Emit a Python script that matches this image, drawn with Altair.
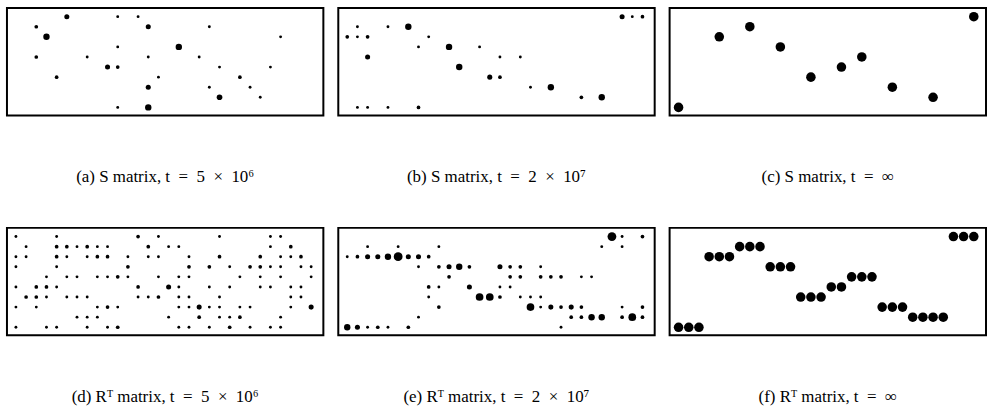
import altair as alt
import pandas as pd

# relative magnitudes of matrix entries (dot area relative to the largest)
T, S, M, L, XL, XXL, F = 0.09, 0.15, 0.28, 0.45, 0.65, 0.85, 1.0

# (row, column, magnitude) for each panel
s_5e6 = [
    (0, 5, M), (0, 10, T), (0, 12, T),
    (1, 2, S), (1, 13, M), (1, 19, T),
    (2, 3, L), (2, 26, T),
    (3, 10, T), (3, 16, L),
    (4, 2, S), (4, 7, T), (4, 13, T), (4, 18, T),
    (5, 9, M), (5, 10, S), (5, 20, T), (5, 25, T),
    (6, 4, S), (6, 14, T), (6, 22, S),
    (7, 13, M), (7, 19, T), (7, 23, T),
    (8, 20, 0.35), (8, 24, T),
    (9, 10, T), (9, 13, L),
]
s_2e7 = [
    (0, 27, M), (0, 28, T), (0, 29, S),
    (1, 1, T), (1, 4, T), (1, 6, L),
    (2, 0, S), (2, 1, T), (2, 2, S), (2, 8, T),
    (3, 7, T), (3, 10, L), (3, 13, T),
    (4, 2, M), (4, 15, T), (4, 17, T),
    (5, 11, L),
    (6, 14, M), (6, 15, S),
    (7, 18, T), (7, 20, L),
    (8, 23, S), (8, 25, L),
    (9, 1, T), (9, 2, T), (9, 4, T), (9, 7, S),
]
s_inf = [
    (9, 0, F), (2, 4, F), (1, 7, F), (3, 10, F), (6, 13, F),
    (5, 16, F), (4, 18, F), (7, 21, F), (8, 25, F), (0, 29, F),
]
r_5e6 = [
    (0, 0, T), (0, 4, T), (0, 12, S), (0, 14, T), (0, 20, T), (0, 25, T), (0, 26, T),
    (1, 1, T), (1, 4, S), (1, 5, S), (1, 6, T), (1, 7, S), (1, 8, T), (1, 9, T),
    (1, 13, S), (1, 15, T), (1, 16, T), (1, 25, T), (1, 27, S),
    (2, 0, T), (2, 1, T), (2, 4, S), (2, 5, T), (2, 7, T), (2, 8, S), (2, 9, S),
    (2, 11, T), (2, 13, T), (2, 14, T), (2, 17, T), (2, 20, S), (2, 24, S),
    (2, 26, T), (2, 27, T), (2, 28, S),
    (3, 0, T), (3, 4, T), (3, 11, S), (3, 17, S), (3, 19, S), (3, 21, T),
    (3, 23, S), (3, 24, S), (3, 25, T), (3, 26, T), (3, 28, T), (3, 29, T),
    (4, 3, T), (4, 5, T), (4, 6, T), (4, 8, T), (4, 9, T), (4, 10, S), (4, 11, T),
    (4, 14, T), (4, 16, T), (4, 17, T), (4, 22, T), (4, 24, T), (4, 26, T), (4, 29, T),
    (5, 0, T), (5, 2, S), (5, 3, S), (5, 4, T), (5, 12, S), (5, 15, M), (5, 16, T),
    (5, 19, T), (5, 21, T), (5, 24, T), (5, 25, T), (5, 27, T), (5, 28, T),
    (6, 1, S), (6, 2, S), (6, 3, T), (6, 5, T), (6, 6, T), (6, 7, T), (6, 12, T),
    (6, 13, T), (6, 14, S), (6, 16, T), (6, 17, T), (6, 20, T), (6, 27, T), (6, 28, T),
    (7, 0, T), (7, 2, T), (7, 8, T), (7, 9, S), (7, 10, T), (7, 16, T), (7, 17, T),
    (7, 18, M), (7, 19, T), (7, 20, T), (7, 22, T), (7, 23, T), (7, 27, T), (7, 29, M),
    (8, 6, T), (8, 7, T), (8, 8, T), (8, 15, T), (8, 18, S), (8, 20, T), (8, 21, T),
    (8, 22, S), (8, 26, T),
    (9, 0, T), (9, 3, T), (9, 4, T), (9, 7, T), (9, 9, T), (9, 10, S), (9, 16, T),
    (9, 17, T), (9, 19, T), (9, 21, S), (9, 23, T), (9, 25, T), (9, 26, T),
]
r_2e7 = [
    (0, 26, XXL), (0, 27, T), (0, 29, S),
    (1, 2, T), (1, 5, T), (1, 9, T), (1, 25, T), (1, 27, T),
    (2, 0, T), (2, 1, S), (2, 2, M), (2, 3, M), (2, 4, L), (2, 5, XXL),
    (2, 6, M), (2, 7, M), (2, 8, S),
    (3, 7, T), (3, 9, S), (3, 10, M), (3, 11, L), (3, 12, S), (3, 15, M),
    (3, 16, S), (3, 17, S), (3, 19, T),
    (4, 10, S), (4, 16, S), (4, 17, S), (4, 19, S), (4, 20, S), (4, 21, S),
    (4, 23, T), (4, 24, T),
    (5, 8, S), (5, 9, T), (5, 12, M), (5, 15, T), (5, 16, T),
    (6, 8, T), (6, 13, XL), (6, 14, XL), (6, 15, S), (6, 17, T), (6, 18, T), (6, 19, T),
    (7, 9, S), (7, 18, XL), (7, 19, T), (7, 20, M), (7, 21, S), (7, 22, M),
    (7, 23, S), (7, 27, T), (7, 29, S),
    (8, 7, T), (8, 22, S), (8, 23, S), (8, 24, L), (8, 25, L), (8, 27, S),
    (8, 28, XL), (8, 29, S),
    (9, 0, L), (9, 1, M), (9, 2, T), (9, 3, S), (9, 4, T), (9, 6, S), (9, 21, T),
]
r_inf_rows = [9, 9, 9, 2, 2, 2, 1, 1, 1, 3, 3, 3, 6, 6, 6, 5, 5, 4, 4, 4,
              7, 7, 7, 8, 8, 8, 8, 0, 0, 0]
r_inf_cols = list(range(30))
r_inf = [(r, c, F) for r, c in zip(r_inf_rows, r_inf_cols)]

EN = "\u2002"
captions = [
    f"(a) S matrix, t{EN}={EN}5{EN}×{EN}10⁶",
    f"(b) S matrix, t{EN}={EN}2{EN}×{EN}10⁷",
    f"(c) S matrix, t{EN}={EN}∞",
    f"(d) Rᵀ matrix, t{EN}={EN}5{EN}×{EN}10⁶",
    f"(e) Rᵀ matrix, t{EN}={EN}2{EN}×{EN}10⁷",
    f"(f) Rᵀ matrix, t{EN}={EN}∞",
]


def panel(entries, caption):
    df = pd.DataFrame(entries, columns=["row", "col", "val"])
    return alt.Chart(df).mark_circle(color="black", opacity=1).encode(
        x=alt.X("col:Q", scale=alt.Scale(domain=[-0.88, 30.2], nice=False, zero=False), axis=None),
        y=alt.Y("row:Q", scale=alt.Scale(domain=[-0.86, 9.8], reverse=True, nice=False, zero=False), axis=None),
        size=alt.Size("val:Q", scale=alt.Scale(domain=[0, 1], range=[0, 92]), legend=None),
    ).properties(
        width=318, height=108,
        title=alt.TitleParams(caption, orient="bottom", offset=54, font="Liberation Serif",
                              fontSize=17, fontWeight="normal", color="black", anchor="middle"),
    )


top = alt.hconcat(panel(s_5e6, captions[0]), panel(s_2e7, captions[1]), panel(s_inf, captions[2]), spacing=13)
bottom = alt.hconcat(panel(r_5e6, captions[3]), panel(r_2e7, captions[4]), panel(r_inf, captions[5]), spacing=13)

chart = alt.vconcat(top, bottom, spacing=41).properties(
    padding={"left": 6, "top": 6, "right": 0, "bottom": 0},
    background="white",
).configure_view(stroke="black", strokeWidth=2)

chart.save("out.html", embed_options={"renderer": "svg", "actions": False})
